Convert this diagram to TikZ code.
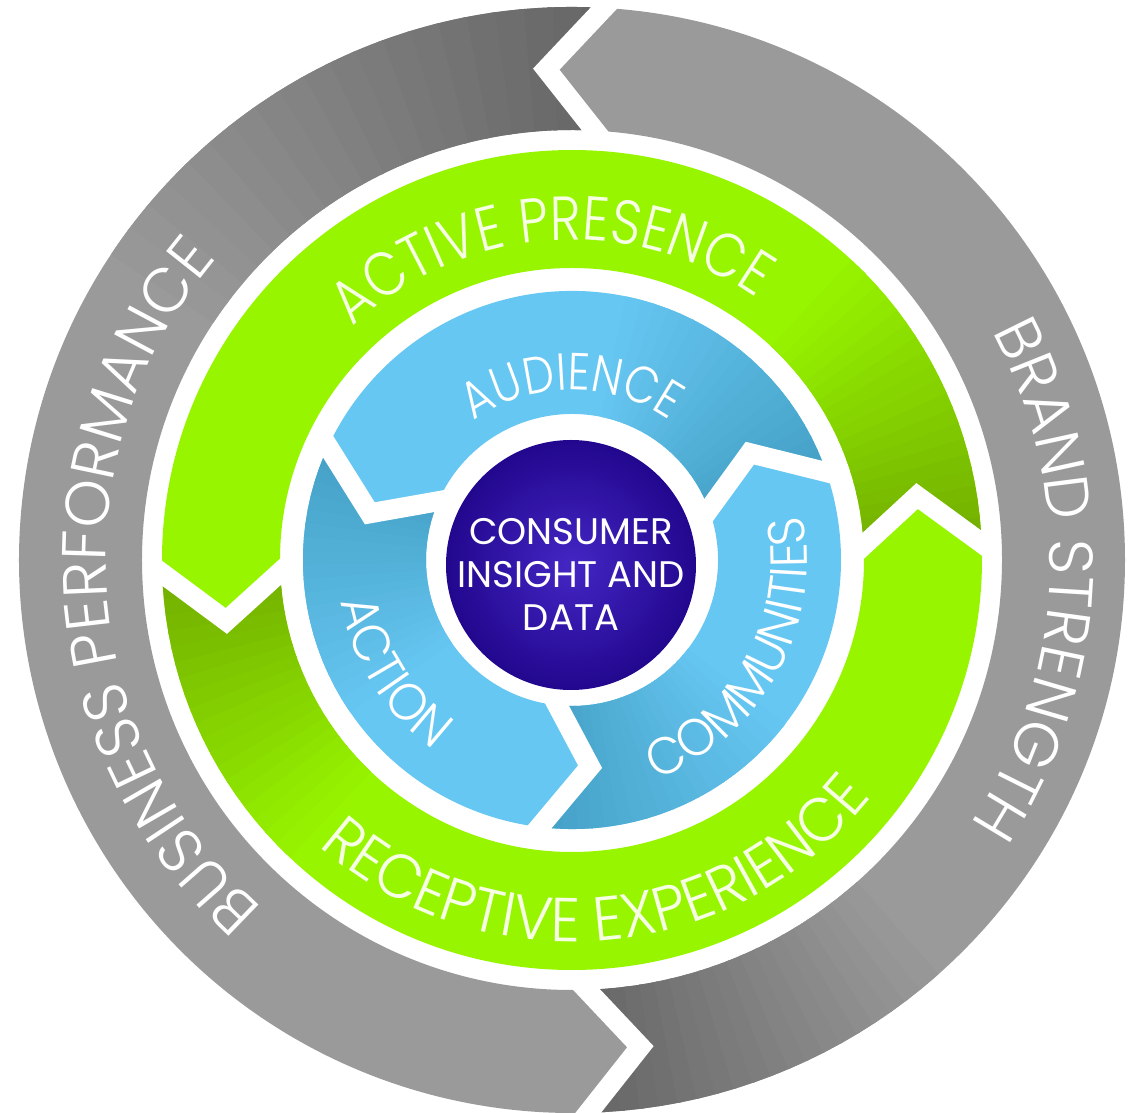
\documentclass[tikz,border=0pt]{standalone}
\usepackage{fontspec}
\newfontfamily\ringfont[FakeStretch=0.85, UprightFont=* Light]{Poppins}
\newfontfamily\midfont[FakeStretch=0.95, UprightFont=* Light]{Poppins}
\newfontfamily\widefont[UprightFont=* Light]{Poppins}
\newfontfamily\corefont{Poppins}
\usetikzlibrary{decorations.text}

\definecolor{grayBase}{HTML}{9A9A9A}
\definecolor{grayDark}{HTML}{666666}
\definecolor{greenBase}{HTML}{97F500}
\definecolor{greenDark}{HTML}{72AE00}
\definecolor{blueBase}{HTML}{66C7F2}
\definecolor{blueDark}{HTML}{45A0C6}
\definecolor{purpleLight}{HTML}{4426C4}
\definecolor{purpleDark}{HTML}{22078E}
\definecolor{greenText}{HTML}{F6FFE4}

\newcommand\grayfont{\widefont\fontsize{62}{62}\selectfont}
\newcommand\topfont{\ringfont\fontsize{62}{62}\selectfont}
\newcommand\bottomfont{\midfont\fontsize{62}{62}\selectfont}
\newcommand\innerfont{\ringfont\fontsize{52}{52}\selectfont}
\newcommand\inwardfont{\midfont\fontsize{52}{52}\selectfont}
\newcommand\centerfont{\corefont\fontsize{37}{43}\selectfont}

\begin{document}
\begin{tikzpicture}[x=1pt,y=1pt]
\tikzstyle{gap} = [white, line width=20pt, line join=miter]
\tikzstyle{ringtext} = [decorate, decoration={text along path, text align={align=center}}]

\useasboundingbox (-572,-553) rectangle (563,560);

% arrows of the three rings: tail / head / outer / inner / tip / fade / colours
\foreach \a/\b/\R/\r/\d/\F/\base/\dark in {
    86/271/553/430/7/60/grayBase/grayDark,
    271/446/553/430/7/40/grayBase/grayDark,
    1.5/181/410/292/9/45/greenBase/greenDark,
    181/361.5/410/292/9/45/greenBase/greenDark,
    18/154/269/146/13/60/blueBase/blueDark,
    154/262/269/146/13/60/blueBase/blueDark,
    262/378/269/146/13/60/blueBase/blueDark}
{
  \pgfmathsetmacro\m{(\R+\r)/2}
  \pgfmathsetmacro\tip{\b+\d}
  \pgfmathsetmacro\notch{\a+\d}
  \begin{scope}
    \clip (\a:\R) arc[start angle=\a, end angle=\b, radius=\R] -- (\tip:\m)
          -- (\b:\r) arc[start angle=\b, end angle=\a, radius=\r] -- (\notch:\m) -- cycle;
    \fill[\base] (0,0) circle[radius=560];
    \foreach \k in {0,...,19} {
      \pgfmathsetmacro\t{\a+\k*\F/20}
      \pgfmathsetmacro\u{\t+\F/20+0.5}
      \pgfmathtruncatemacro\p{100-5*\k}
      \fill[\dark!\p!\base] (0,0) -- (\t:600) -- (\u:600) -- cycle;
    }
  \end{scope}
}

% white chevron gaps
\foreach \t/\R/\r/\d in {86/553/430/7, 271/553/430/7, 1.5/410/292/9, 181/410/292/9,
    18/269/146/13, 154/269/146/13, 262/269/146/13}
{
  \pgfmathsetmacro\m{(\R+\r)/2}
  \pgfmathsetmacro\tip{\t+\d}
  \pgfmathsetmacro\ro{\R+8}
  \pgfmathsetmacro\ri{\r-8}
  \draw[gap] (\t:\ro) -- (\tip:\m) -- (\t:\ri);
}

% ring labels
\path[ringtext, decoration={text color=white, text={|\grayfont|BUSINESS PERFORMANCE}}]
  (254:466) arc[start angle=254, end angle=114, radius=466];
\path[ringtext, decoration={text color=white, text={|\grayfont|BRAND STRENGTH}}]
  (62.5:478) arc[start angle=62.5, end angle=-67.5, radius=478];
\path[ringtext, decoration={text color=greenText, text={|\topfont|ACTIVE PRESENCE}}]
  (174:320) arc[start angle=174, end angle=14, radius=320];
\path[ringtext, decoration={text color=greenText, text={|\bottomfont|RECEPTIVE EXPERIENCE}}]
  (185:382) arc[start angle=185, end angle=365, radius=382];
\path[ringtext, decoration={text color=white, text={|\innerfont|AUDIENCE}}]
  (180:170) arc[start angle=180, end angle=0, radius=170];
\path[ringtext, decoration={text color=white, text={|\inwardfont|COMMUNITIES}}]
  (246:235) arc[start angle=246, end angle=416, radius=235];
\path[ringtext, decoration={text color=white, text={|\inwardfont|ACTION}}]
  (142:235) arc[start angle=142, end angle=282, radius=235];

% centre
\shade[inner color=purpleLight, outer color=purpleDark] (-1,-5) circle[radius=125];
\node[text=white, align=center, font=\centerfont] (core) at (-1,-14) {CONSUMER\\INSIGHT AND\\DATA};
\end{tikzpicture}
\end{document}
